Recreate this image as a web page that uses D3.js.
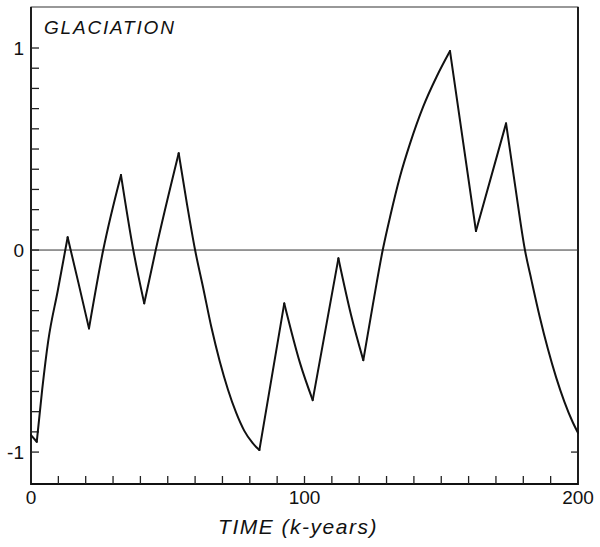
<!DOCTYPE html>
<html>
<head>
<meta charset="utf-8">
<script src="https://cdn.jsdelivr.net/npm/d3@7"></script>
<style>
  body { margin: 0; background: #fff; }
  svg text { font-family: "Liberation Sans", Arial, sans-serif; fill: #111; }
</style>
</head>
<body>
<div id="chart"></div>
<script>
'use strict';

// time in k-years
var time = [0, 2.1, 4.1, 6.3, 9.8, 13.4, 17.3, 21.2, 26.4, 32.9, 37.4, 41.4, 45.6, 54.0,
  57, 60, 63, 66, 69, 72, 75, 78, 81, 83.5,
  92.6, 98.4, 103.0, 112.4, 117, 121.5, 125, 128.6, 131.3, 134.9, 138.6, 143.4, 148.3, 153.2,
  162.7, 173.7, 177, 180.6, 183, 186, 189, 192, 195, 198, 200];

// glaciation index
var glaciation = [-0.916, -0.949, -0.69, -0.45, -0.2, 0.063, -0.16, -0.388, 0.0, 0.371, 0.0, -0.264, 0.0, 0.479,
  0.23, 0.0, -0.19, -0.385, -0.55, -0.69, -0.805, -0.895, -0.955, -0.99,
  -0.264, -0.561, -0.743, -0.041, -0.32, -0.545, -0.27, 0.0, 0.165, 0.363, 0.528, 0.71, 0.858, 0.985,
  0.094, 0.627, 0.32, 0.0, -0.15, -0.33, -0.49, -0.63, -0.75, -0.85, -0.905];

var xTicks = d3.range(10, 200, 10);
var xLabels = [0, 100, 200];
var yTicks = d3.range(-10, 11).map(function (d) { return d / 10; });
var yLabels = ['-1', '0', '1'];
var yLabelValues = [-1, 0, 1];

var width = 600, height = 547;
var plotLeft = 31, plotRight = 578, plotTop = 7, plotBottom = 484;

var svg = d3.select('#chart').append('svg')
  .attr('width', width)
  .attr('height', height);

var x = d3.scaleLinear().domain([0, 200]).range([plotLeft, plotRight]);
var y = d3.scaleLinear().domain([-1.158, 1.203]).range([plotBottom, plotTop]);

// frame
svg.append('rect')
  .attr('x', plotLeft).attr('y', plotTop)
  .attr('width', plotRight - plotLeft).attr('height', plotBottom - plotTop)
  .attr('fill', 'none').attr('stroke', '#333').attr('stroke-width', 1);

svg.append('path')
  .attr('d', 'M' + plotLeft + ',' + plotTop + 'V' + plotBottom + 'H' + plotRight + 'V' + plotTop)
  .attr('fill', 'none').attr('stroke', '#111').attr('stroke-width', 1.8);

// zero line
svg.append('line')
  .attr('x1', plotLeft).attr('x2', plotRight)
  .attr('y1', y(0)).attr('y2', y(0))
  .attr('stroke', '#333').attr('stroke-width', 1);

// bottom ticks, pointing up
svg.selectAll('.xtick')
  .data(xTicks)
  .enter().append('line')
  .attr('class', 'xtick')
  .attr('x1', function (d) { return x(d); })
  .attr('x2', function (d) { return x(d); })
  .attr('y1', plotBottom)
  .attr('y2', plotBottom - 8)
  .attr('stroke', '#222').attr('stroke-width', 1.3);

svg.selectAll('.xlabel')
  .data(xLabels)
  .enter().append('text')
  .attr('class', 'xlabel')
  .attr('x', function (d) { return x(d); })
  .attr('y', plotBottom + 20)
  .attr('text-anchor', 'middle')
  .style('font-size', '19px')
  .text(function (d) { return d; });

// left ticks, pointing right
svg.selectAll('.ytick')
  .data(yTicks)
  .enter().append('line')
  .attr('class', 'ytick')
  .attr('x1', plotLeft)
  .attr('x2', plotLeft + 8)
  .attr('y1', function (d) { return y(d); })
  .attr('y2', function (d) { return y(d); })
  .attr('stroke', '#222').attr('stroke-width', 1.3);

svg.selectAll('.ylabel')
  .data(yLabelValues)
  .enter().append('text')
  .attr('class', 'ylabel')
  .attr('x', plotLeft - 7)
  .attr('y', function (d) { return y(d) + 7; })
  .attr('text-anchor', 'end')
  .style('font-size', '19px')
  .text(function (d, i) { return yLabels[i]; });

// right tick at -1, pointing left
svg.append('line')
  .attr('x1', plotRight).attr('x2', plotRight - 7)
  .attr('y1', y(-1)).attr('y2', y(-1))
  .attr('stroke', '#222').attr('stroke-width', 1.3);

// curve: split at turning points so cusps stay sharp, smooth in between
var points = time.map(function (t, i) { return [t, glaciation[i]]; });
var breaks = [0];
for (var i = 1; i < points.length - 1; i++) {
  var a = points[i][1] - points[i - 1][1], b = points[i + 1][1] - points[i][1];
  if (a * b < 0) breaks.push(i);
}
breaks.push(points.length - 1);

var line = d3.line()
  .x(function (d) { return x(d[0]); })
  .y(function (d) { return y(d[1]); })
  .curve(d3.curveMonotoneX);

var pieces = [];
for (var j = 0; j < breaks.length - 1; j++) {
  pieces.push(points.slice(breaks[j], breaks[j + 1] + 1));
}

svg.selectAll('.curve')
  .data(pieces)
  .enter().append('path')
  .attr('class', 'curve')
  .attr('d', line)
  .attr('fill', 'none')
  .attr('stroke', '#111')
  .attr('stroke-width', 2)
  .attr('stroke-linecap', 'round');

// titles
svg.append('text')
  .attr('x', 44).attr('y', 34)
  .style('font-size', '19px').style('font-style', 'italic').style('letter-spacing', '1.8px')
  .text('GLACIATION');

svg.append('text')
  .attr('x', 298).attr('y', 534)
  .attr('text-anchor', 'middle')
  .style('font-size', '21px').style('font-style', 'italic').style('letter-spacing', '1.5px')
  .text('TIME (k-years)');
</script>
</body>
</html>
